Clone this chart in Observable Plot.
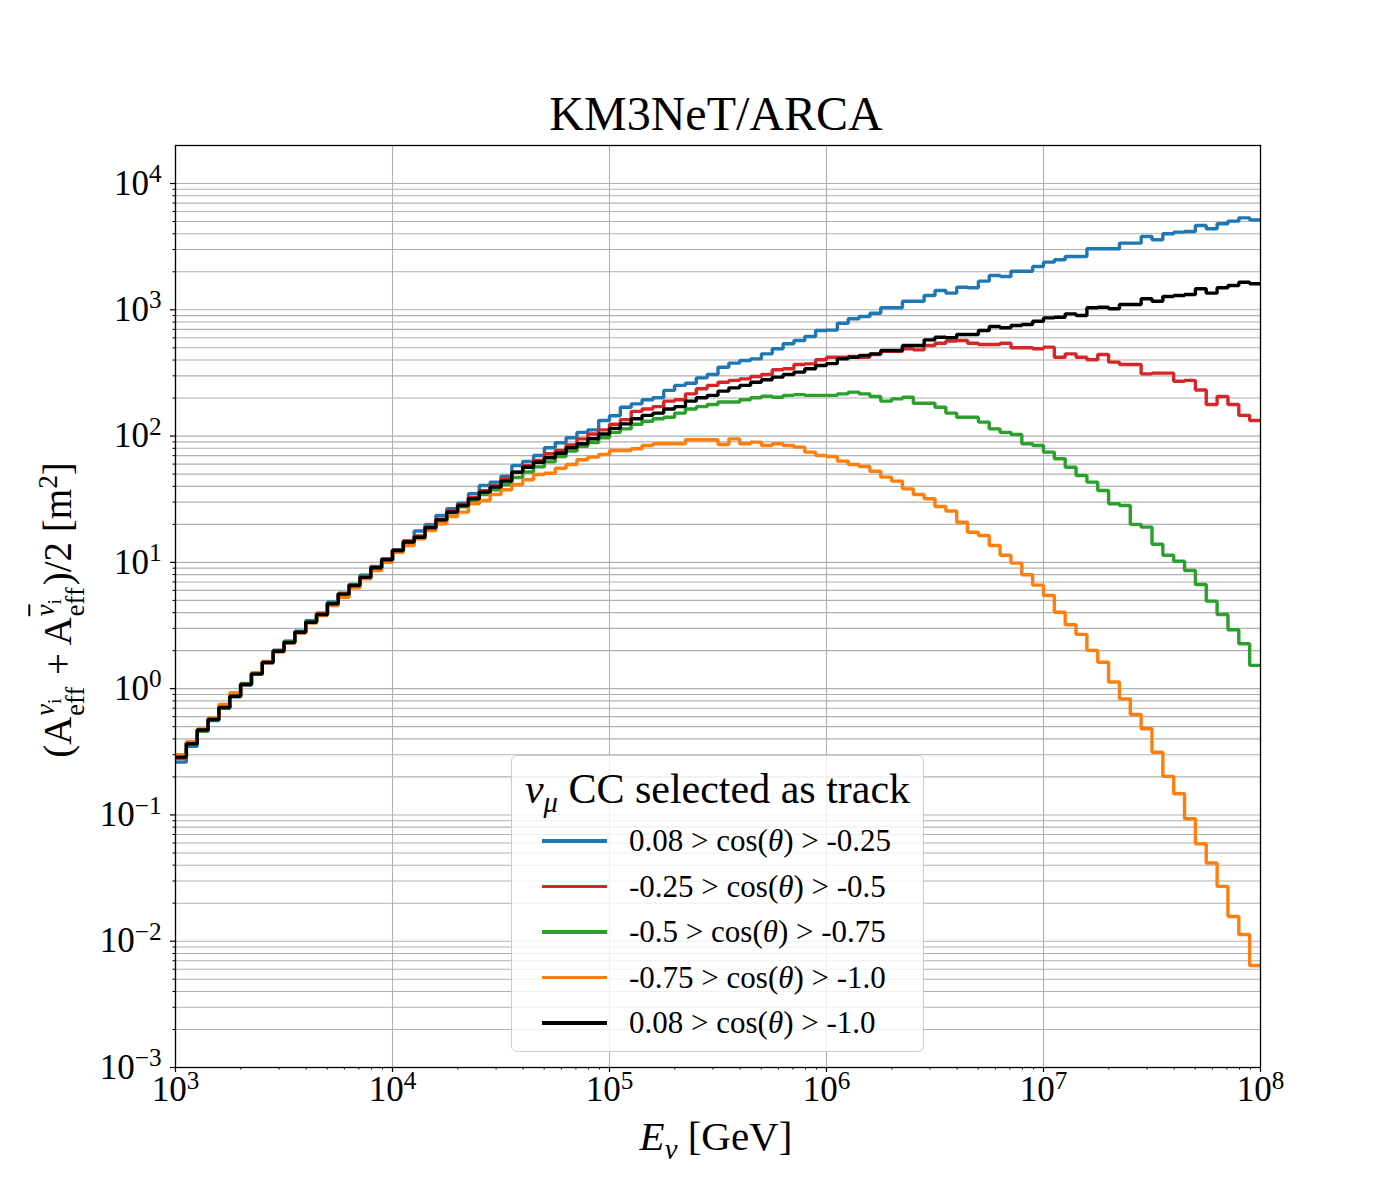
<!DOCTYPE html>
<html>
<head>
<meta charset="utf-8">
<script src="https://cdn.jsdelivr.net/npm/d3@7"></script>
<script src="https://cdn.jsdelivr.net/npm/@observablehq/plot@0.6"></script>
<style>
  body { margin: 0; background: white; }
  #wrap { position: relative; width: 1400px; height: 1200px; font-family: 'Liberation Serif', 'DejaVu Serif', serif; color: black; }
  #chart { position: absolute; left: 0; top: 0; }
  #title { position: absolute; left: 716px; top: 90px; transform: translateX(-50%); font-size: 48px; line-height: 1; white-space: nowrap; }
  #xlab { position: absolute; left: 716px; top: 1116px; transform: translateX(-50%); font-size: 41px; line-height: 1; white-space: nowrap; }
  #ylab { position: absolute; left: 62px; top: 610px; transform: translate(-50%, -50%) rotate(-90deg); font-size: 39px; line-height: 1; white-space: nowrap; }
  .ss { display: inline-flex; flex-direction: column; vertical-align: middle; font-size: 0.68em; line-height: 0.95; margin-left: 1px; margin-right: 2px; position: relative; top: -0.05em; }
  .ss .sp { font-style: normal; }
  .ss .sb { font-style: normal; }
  .bar { text-decoration: overline; }
  #legend { position: absolute; left: 511px; top: 755px; width: 413px; height: 297px; background: rgba(255,255,255,0.8); border: 1px solid #cccccc; border-radius: 6px; box-sizing: border-box; }
  #legend .ltitle { position: absolute; left: 0; width: 100%; top: 12px; text-align: center; font-size: 42px; line-height: 1; white-space: nowrap; }
  #legend .row { position: absolute; left: 0; height: 30px; width: 100%; }
  #legend .swatch { position: absolute; left: 30px; top: 13px; width: 65px; height: 3.5px; }
  #legend .ltext { position: absolute; left: 117px; top: 0; font-size: 31px; line-height: 30px; white-space: nowrap; }
</style>
</head>
<body>
<div id="wrap">
  <div id="chart"></div>
  <div id="title">KM3NeT/ARCA</div>
  <div id="xlab"><i>E</i><sub style="font-size:0.7em"><i>ν</i></sub> [GeV]</div>
  <div id="ylab">(A<span class="ss"><span class="sp"><i>ν</i><sub style="font-size:0.75em">i</sub></span><span class="sb">eff</span></span> + A<span class="ss"><span class="sp"><i class="bar">ν</i><sub style="font-size:0.75em">i</sub></span><span class="sb">eff</span></span>)/2 [m<sup style="font-size:0.7em">2</sup>]</div>
  <div id="legend"></div>
</div>
<script>
// ---- Data: 100 log-spaced energy bins, 20 per decade, from 1e3 to 1e8 GeV ----
const logEmin = 3;
const binsPerDecade = 20;
const nBins = 100;

const seriesNames = [
  "0.08 > cos(θ) > -0.25",
  "-0.25 > cos(θ) > -0.5",
  "-0.5 > cos(θ) > -0.75",
  "-0.75 > cos(θ) > -1.0",
  "0.08 > cos(θ) > -1.0"
];
const seriesColors = ["#1f77b4", "#d62728", "#2ca02c", "#ff7f0e", "#000000"];

const aeffBlue = [
  0.262, 0.35, 0.46, 0.56, 0.70, 0.86, 1.07, 1.33, 1.62, 2.02,
  2.36, 2.85, 3.45, 3.9, 4.85, 5.7, 6.7, 7.9, 9.3, 10.7,
  12.6, 14.8, 17.7, 19.9, 23.5, 26.6, 29.4, 34.9, 40.6, 43.2,
  48.2, 58.5, 63, 70.2, 80.8, 88.5, 97, 107, 112, 133,
  145, 169, 180, 194, 201, 230, 252, 262, 289, 307,
  351, 378, 397, 409, 448, 491, 538, 571, 615, 686,
  690, 783, 849, 885, 940, 1037, 1037, 1170, 1170, 1298,
  1421, 1355, 1510, 1493, 1686, 1869, 1835, 2022, 2022, 2202,
  2383, 2489, 2643, 2643, 3040, 3040, 3040, 3371, 3371, 3805,
  3583, 3998, 4118, 4168, 4649, 4378, 4797, 5033, 5346, 5152
];
const aeffRed = [
  0.28, 0.37, 0.47, 0.58, 0.72, 0.88, 1.09, 1.30, 1.60, 2.0,
  2.34, 2.78, 3.38, 3.95, 4.7, 5.65, 6.6, 7.7, 9.2, 10.6,
  12.5, 14.8, 16.2, 19.2, 22, 25.5, 28.8, 32.5, 37, 40.5,
  46, 51.8, 58.5, 64, 72.4, 77, 85, 95, 104, 112,
  124, 135, 157, 164, 171, 189, 194, 216, 237, 252,
  267, 276, 284, 296, 307, 335, 341, 369, 373, 402,
  421, 421, 427, 421, 443, 470, 470, 491, 482, 522,
  544, 565, 571, 544, 531, 531, 544, 500, 500, 491,
  506, 421, 448, 421, 402, 443, 385, 369, 369, 311,
  315, 315, 272, 276, 232, 178, 206, 178, 146, 133
];
const aeffGreen = [
  0.29, 0.37, 0.46, 0.57, 0.70, 0.88, 1.10, 1.30, 1.62, 1.98,
  2.38, 2.8, 3.4, 3.85, 4.75, 5.6, 6.6, 7.65, 9.1, 10.4,
  12.3, 14.3, 16, 18.6, 21.4, 24.6, 27.6, 30.8, 34.5, 37.5,
  41.4, 47, 52, 57, 62.5, 69, 76, 83, 89, 97,
  107, 114, 124, 131, 137, 141, 152, 164, 171, 178,
  186, 186, 194, 201, 207, 203, 210, 213, 210, 210,
  210, 216, 223, 216, 206, 189, 197, 203, 182, 182,
  169, 152, 141, 141, 129, 114, 107, 103, 86.9, 84.3,
  74.6, 66.1, 56.7, 48.8, 43.2, 37.1, 29.1, 28.2, 20.0, 19.0,
  13.9, 11.4, 10.2, 8.63, 6.68, 4.93, 3.87, 2.93, 2.27, 1.53
];
const aeffOrange = [
  0.30, 0.38, 0.48, 0.58, 0.75, 0.93, 1.08, 1.33, 1.64, 1.95,
  2.3, 2.75, 3.3, 3.8, 4.55, 5.3, 6.3, 7.4, 8.6, 10.0,
  12.0, 13.6, 15.4, 17.9, 20.2, 23.1, 25, 29.1, 30.9, 34.5,
  37.6, 41.4, 45.1, 49.7, 50.8, 55.7, 59.6, 64.9, 68.1, 71.5,
  76.9, 76.9, 79.3, 84.3, 86.9, 86.9, 86.9, 93.5, 93.5, 93.5,
  85.8, 95, 86.9, 89.5, 84.3, 86.9, 84.3, 81.7, 74.6, 70.2,
  68.9, 63.4, 59.6, 57.5, 52.7, 47.3, 44, 38.2, 34.5, 31.9,
  27.7, 25.5, 20.8, 17.3, 16.3, 13.6, 11.4, 9.86, 7.98, 6.6,
  5.47, 4.03, 3.21, 2.69, 2.01, 1.62, 1.13, 0.83, 0.625, 0.481,
  0.314, 0.202, 0.147, 0.0933, 0.0591, 0.0416, 0.0272, 0.0157, 0.0113, 0.00643
];
const aeffBlack = [
  0.287, 0.366, 0.47, 0.57, 0.71, 0.87, 1.08, 1.31, 1.61, 1.98,
  2.32, 2.8, 3.36, 3.87, 4.7, 5.6, 6.56, 7.6, 9.06, 10.5,
  12.4, 14.5, 15.8, 18.8, 21.7, 25, 28.2, 31.9, 36, 39.4,
  44, 51.8, 56.7, 62, 67.3, 73.2, 80.8, 86.9, 95.2, 104,
  115, 125, 137, 146, 152, 164, 171, 189, 201, 210,
  227, 241, 252, 267, 279, 293, 307, 321, 341, 362,
  375, 409, 421, 435, 448, 476, 476, 522, 522, 578,
  607, 600, 637, 637, 686, 737, 720, 751, 765, 812,
  863, 874, 929, 901, 1037, 1049, 1018, 1101, 1101, 1222,
  1170, 1274, 1298, 1322, 1466, 1355, 1493, 1557, 1654, 1607
];
const seriesValues = [aeffBlue, aeffRed, aeffGreen, aeffOrange, aeffBlack];

const xTickExponents = [3, 4, 5, 6, 7, 8];
const yTickExponents = [-3, -2, -1, 0, 1, 2, 3, 4];
const xDomain = [1e3, 1e8];
const yDomain = [1e-3, 2e4];

// ---- Derived tables ----
const edges = d3.range(nBins + 1).map(i => 10 ** (logEmin + i / binsPerDecade));
function stepPoints(vals, name) {
  const pts = vals.map((v, i) => ({E: edges[i], A: v, s: name}));
  pts.push({E: edges[nBins], A: vals[nBins - 1], s: name});
  return pts;
}
const xMajor = xTickExponents.map(e => 10 ** e);
const yMajor = yTickExponents.map(e => 10 ** e);
const minorOf = (exps, dom) => exps.flatMap(e => d3.range(2, 10).map(m => m * 10 ** e)).filter(v => v > dom[0] && v < dom[1]);
const xMinor = minorOf(xTickExponents, xDomain);
const yMinor = minorOf(yTickExponents, yDomain);
const yGrid = [...yMajor, ...yMinor];

const fmtExp = d => "10^" + Math.round(Math.log10(d));

const lineMarks = seriesValues.map((vals, k) =>
  Plot.line(stepPoints(vals, seriesNames[k]), {
    x: "E", y: "A", curve: "step-after", stroke: seriesColors[k], strokeWidth: 3.4, strokeLinejoin: "miter", strokeLinecap: "butt"
  })
);

const plot = Plot.plot({
  width: 1400,
  height: 1200,
  marginLeft: 175,
  marginRight: 140,
  marginTop: 145,
  marginBottom: 133,
  style: {fontFamily: "'Liberation Serif', serif", fontSize: "35px", color: "black", background: "transparent", overflow: "visible"},
  x: {type: "log", domain: xDomain, label: null},
  y: {type: "log", domain: yDomain, label: null},
  marks: [
    Plot.ruleY(yGrid, {stroke: "#b0b0b0", strokeWidth: 1.1}),
    Plot.ruleX(xMajor, {stroke: "#b0b0b0", strokeWidth: 1.1}),
    ...lineMarks,
    Plot.frame({stroke: "black", strokeWidth: 1.3}),
    Plot.axisX({ticks: xMajor, tickSize: 5, tickPadding: 4, tickFormat: fmtExp, label: null, fontSize: 35, strokeWidth: 1.2}),
    Plot.axisX({ticks: xMinor, tickSize: 2.5, tickFormat: () => "", label: null, strokeWidth: 1}),
    Plot.axisY({ticks: yMajor, tickSize: 5, tickPadding: 9, tickFormat: fmtExp, label: null, fontSize: 35, strokeWidth: 1.2}),
    Plot.axisY({ticks: yMinor, tickSize: 2.5, tickFormat: () => "", label: null, strokeWidth: 1})
  ]
});
document.getElementById("chart").appendChild(plot);

// Turn "10^e" tick labels into base + superscript
d3.select(plot).selectAll("text").each(function() {
  const t = this.textContent;
  const m = /^10\^(-?\d+)$/.exec(t);
  if (!m) return;
  const sel = d3.select(this);
  sel.text(null);
  sel.append("tspan").text("10");
  sel.append("tspan").attr("dy", "-0.5em").attr("font-size", "0.72em").text(m[1].replace("-", "−"));
});

// Legend (HTML overlay)
const legend = d3.select("#legend");
legend.append("div").attr("class", "ltitle").html('<i>ν</i><sub style="font-size:0.68em"><i>μ</i></sub> CC selected as track');
seriesNames.forEach((name, k) => {
  const row = legend.append("div").attr("class", "row").style("top", (70 + k * 45.5) + "px");
  row.append("div").attr("class", "swatch").style("background", seriesColors[k]);
  row.append("div").attr("class", "ltext").html(name.replace("θ", "<i>θ</i>"));
});
</script>
</body>
</html>
